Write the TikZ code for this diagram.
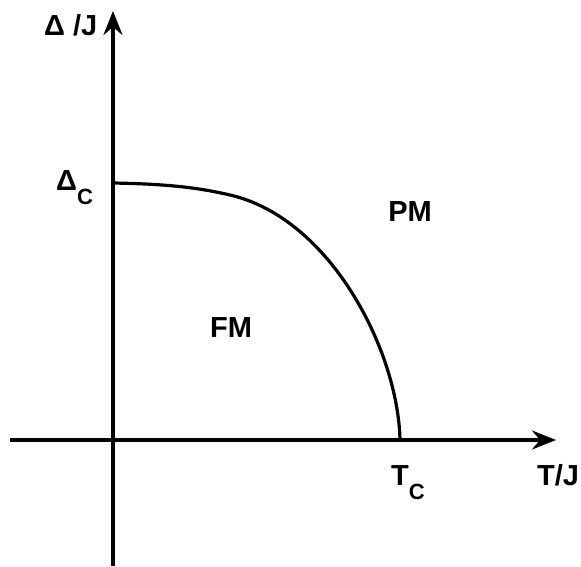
\documentclass[tikz,border=0pt]{standalone}
\usepackage{fontspec}
\setmainfont{Liberation Sans}
\usetikzlibrary{arrows.meta}
\newcommand{\lowsub}[1]{\raisebox{-14pt}{\fontsize{22}{24}\selectfont #1}}
\tikzset{
  axis/.style={line width=3.2pt, -{Stealth[length=24pt, width=19pt, inset=8pt]}},
  border/.style={line width=3.2pt},
  lbl/.style={font=\fontsize{29}{32}\selectfont\bfseries, inner sep=0pt},
}
\begin{document}
\begin{tikzpicture}[x=1pt,y=-1pt]
    \useasboundingbox (0,0) rectangle (581,566);
    % axes
    \coordinate (xstart) at (10,440);
    \coordinate (xend) at (556,440);
    \coordinate (ystart) at (113,566);
    \coordinate (yend) at (113,11);
    \draw[axis] (xstart) -- (xend);
    \draw[axis] (ystart) -- (yend);
    % phase boundary
    \coordinate (dc) at (113,183);
    \coordinate (bend) at (230,195);
    \coordinate (tc) at (400,440);
    \draw[border] (dc) .. controls (170,184) and (200,188) .. (bend)
                       .. controls (330,218) and (398,350) .. (tc);
    % labels
    \node[lbl, anchor=base west] (ylabel) at (44,35) {Δ /J};
    \node[lbl, anchor=base west] (dclabel) at (56,190) {Δ\lowsub{C}};
    \node[lbl, anchor=base west] (tclabel) at (391,485) {T\lowsub{C}};
    \node[lbl, anchor=base west] (xlabel) at (537,485) {T/J};
    \node[lbl] (fm) at (231,328) {FM};
    \node[lbl] (pm) at (410,212) {PM};
\end{tikzpicture}
\end{document}
